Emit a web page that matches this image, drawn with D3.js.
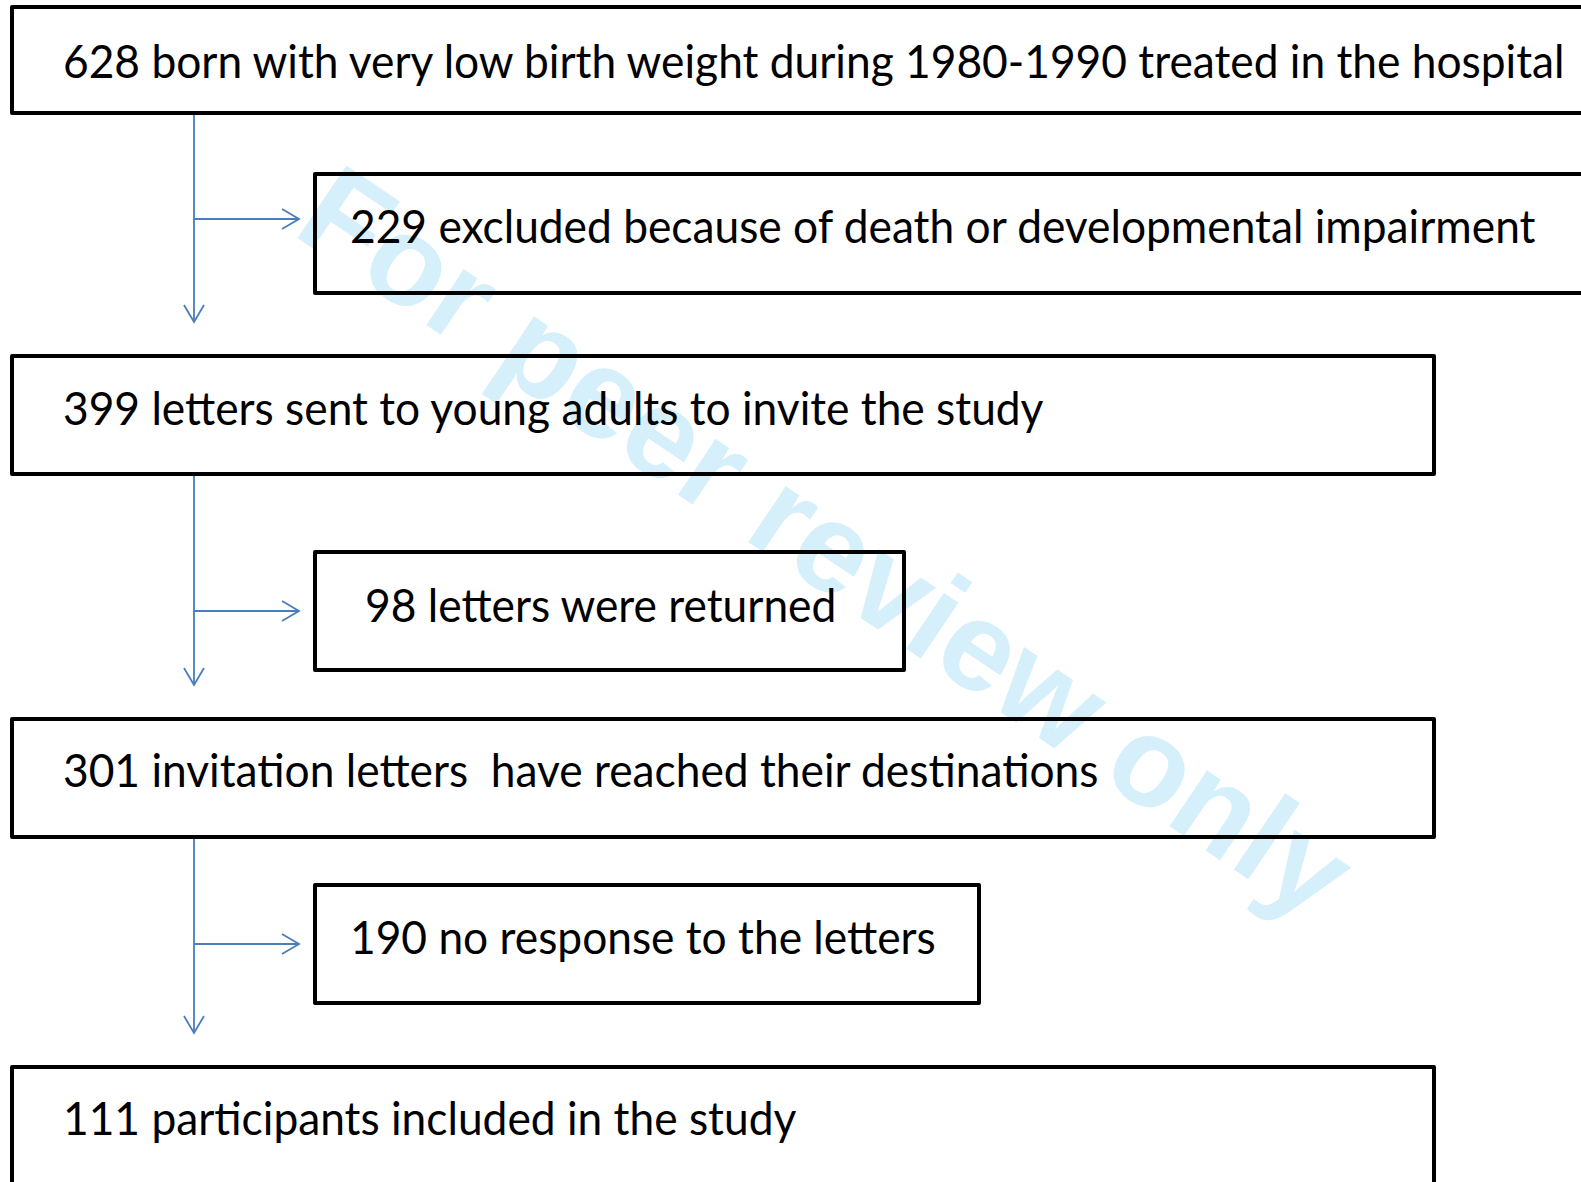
<!DOCTYPE html>
<html>
<head>
<meta charset="utf-8">
<script src="https://cdn.jsdelivr.net/npm/d3@7"></script>
<style>
  body { margin: 0; background: #fff; }
  text { white-space: pre; }
</style>
</head>
<body>
<div id="chart-area"></div>
<script>
// Flow of participants
var counts = [628, 229, 399, 98, 301, 190, 111]
var descriptions = [
    "born with very low birth weight during 1980-1990 treated in the hospital",
    "excluded because of death or developmental impairment",
    "letters sent to young adults to invite the study",
    "letters were returned",
    "invitation letters  have reached their destinations",
    "no response to the letters",
    "participants included in the study"
]
var kinds = ["main", "side", "main", "side", "main", "side", "main"]
var watermark = "For peer review only"

var width = 1581,
    height = 1182

var svg = d3.select("#chart-area")
    .append("svg")
        .attr("width", width)
        .attr("height", height)

svg.append("rect")
    .attr("width", width)
    .attr("height", height)
    .attr("fill", "#fff")

// Layout: box edges for each step (stroke centre)
var boxTop    = d3.scaleOrdinal().domain(d3.range(7)).range([7, 174, 356, 552, 719, 885, 1067])
var boxBottom = d3.scaleOrdinal().domain(d3.range(7)).range([113, 293, 474, 670, 837, 1003, 1200])
var boxRight  = d3.scaleOrdinal().domain(d3.range(7)).range([1600, 1600, 1434, 904, 1434, 979, 1434])
var boxLeft   = d3.scaleOrdinal().domain(["main", "side"]).range([12, 315])
var textX     = d3.scaleOrdinal().domain(d3.range(7)).range([63, 350, 63, 365, 63, 350, 63])
var baseline  = d3.scaleOrdinal().domain(d3.range(7)).range([78, 243, 425, 622, 787, 954, 1135])

var steps = counts.map((c, i) => ({i: i, count: c, label: c + " " + descriptions[i], kind: kinds[i]}))

// Watermark behind everything
svg.append("text")
    .attr("transform", "translate(827, 542) rotate(34)")
    .attr("text-anchor", "middle")
    .attr("dominant-baseline", "central")
    .attr("font-family", "'Liberation Sans', Arial, sans-serif")
    .attr("font-weight", "bold")
    .attr("font-size", 127)
    .attr("fill", "#d5effb")
    .text(watermark)

// Connectors: trunk from each main box down to the next, branch to the side box
var trunkX = 194
var lineColor = "#4a7ebb"
var mains = steps.filter(d => d.kind == "main")
var connectors = d3.range(mains.length - 1).map(k => ({
    from: mains[k].i, side: mains[k].i + 1, to: mains[k + 1].i
}))

var g = svg.append("g")
    .attr("fill", "none")
    .attr("stroke", lineColor)
    .attr("stroke-width", 1.8)

connectors.forEach(function(c){
    var y0 = boxBottom(c.from) + 2
    var tipY = boxTop(c.to) - 2 - 32
    var branchY = c.side == 1 ? 219 : (boxTop(c.side) + boxBottom(c.side)) / 2
    var branchX = boxLeft("side") - 2 - 14

    g.append("line")
        .attr("x1", trunkX).attr("y1", y0)
        .attr("x2", trunkX).attr("y2", tipY)
    g.append("path")
        .attr("d", "M" + (trunkX - 10) + "," + (tipY - 17) + "L" + trunkX + "," + tipY + "L" + (trunkX + 10) + "," + (tipY - 17))
    g.append("line")
        .attr("x1", trunkX).attr("y1", branchY)
        .attr("x2", branchX).attr("y2", branchY)
    g.append("path")
        .attr("d", "M" + (branchX - 17) + "," + (branchY - 10) + "L" + branchX + "," + branchY + "L" + (branchX - 17) + "," + (branchY + 10))
})

// Boxes
svg.selectAll("rect.box")
    .data(steps)
    .enter()
    .append("rect")
        .attr("class", "box")
        .attr("x", d => boxLeft(d.kind))
        .attr("y", d => boxTop(d.i))
        .attr("width", d => boxRight(d.i) - boxLeft(d.kind))
        .attr("height", d => boxBottom(d.i) - boxTop(d.i))
        .attr("fill", "none")
        .attr("stroke", "#000")
        .attr("stroke-width", 4)
        .attr("stroke-linejoin", "round")

// Labels, squeezed a little horizontally to match the narrower original face
svg.selectAll("text.label")
    .data(steps)
    .enter()
    .append("text")
        .attr("class", "label")
        .attr("transform", d => "translate(" + textX(d.i) + "," + baseline(d.i) + ") scale(0.963,1)")
        .attr("font-family", "Lato, 'Open Sans', sans-serif")
        .attr("font-size", 46)
        .attr("fill", "#000")
        .text(d => d.label)
</script>
</body>
</html>
